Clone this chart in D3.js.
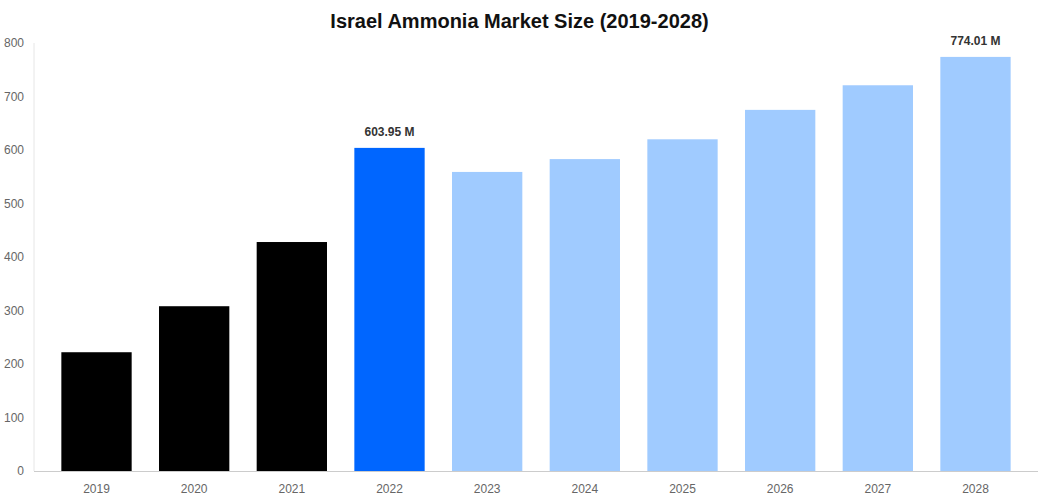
<!DOCTYPE html>
<html>
<head>
<meta charset="utf-8">
<script src="https://cdn.jsdelivr.net/npm/d3@7"></script>
<style>
  body { margin: 0; background: #fff; font-family: "Liberation Sans", Arial, sans-serif; }
</style>
</head>
<body>
<div id="container"></div>
<script>
const years = ["2019", "2020", "2021", "2022", "2023", "2024", "2025", "2026", "2027", "2028"];
const values = [222, 308, 428, 603.95, 559, 583, 620, 675, 721, 774.01];
const colors = ["#000000", "#000000", "#000000", "#0066ff", "#a0cbff", "#a0cbff", "#a0cbff", "#a0cbff", "#a0cbff", "#a0cbff"];
const labels = { "2022": "603.95 M", "2028": "774.01 M" };
const yTicks = [0, 100, 200, 300, 400, 500, 600, 700, 800];

const width = 1039, height = 500,
  margin = { top: 43, bottom: 29, left: 34, right: 1 };

const svg = d3.select("#container").append("svg")
  .attr("width", width).attr("height", height);

svg.append("text")
  .attr("x", width / 2).attr("y", 28)
  .attr("text-anchor", "middle")
  .attr("font-size", 20).attr("font-weight", "bold")
  .attr("fill", "#111")
  .text("Israel Ammonia Market Size (2019-2028)");

const x = d3.scaleBand().domain(years)
  .range([margin.left, width - margin.right]).padding(0.28);
const y = d3.scaleLinear().domain([0, 800])
  .range([height - margin.bottom, margin.top]);

svg.selectAll("rect.bar").data(years).join("rect")
  .attr("class", "bar")
  .attr("x", d => x(d))
  .attr("width", x.bandwidth())
  .attr("y", (d, i) => y(values[i]))
  .attr("height", (d, i) => y(0) - y(values[i]))
  .attr("fill", (d, i) => colors[i]);

svg.selectAll("text.val").data(years.filter(d => labels[d])).join("text")
  .attr("class", "val")
  .attr("x", d => x(d) + x.bandwidth() / 2)
  .attr("y", d => y(values[years.indexOf(d)]) - 12)
  .attr("text-anchor", "middle")
  .attr("font-size", 12).attr("font-weight", "bold").attr("fill", "#333")
  .text(d => labels[d]);

// left axis
svg.append("line")
  .attr("x1", margin.left).attr("x2", margin.left)
  .attr("y1", margin.top).attr("y2", y(0))
  .attr("stroke", "#e6e6e6");
svg.selectAll("text.ytick").data(yTicks).join("text")
  .attr("class", "ytick")
  .attr("x", 24).attr("y", d => y(d) + 4)
  .attr("text-anchor", "end")
  .attr("font-size", 12).attr("fill", "#666")
  .text(d => d);

// bottom axis
svg.append("line")
  .attr("x1", margin.left).attr("x2", width - margin.right)
  .attr("y1", y(0) + 0.5).attr("y2", y(0) + 0.5)
  .attr("stroke", "#ccc");
svg.selectAll("text.xtick").data(years).join("text")
  .attr("class", "xtick")
  .attr("x", d => x(d) + x.bandwidth() / 2)
  .attr("y", y(0) + 22)
  .attr("text-anchor", "middle")
  .attr("font-size", 12).attr("fill", "#666")
  .text(d => d);
</script>
</body>
</html>
